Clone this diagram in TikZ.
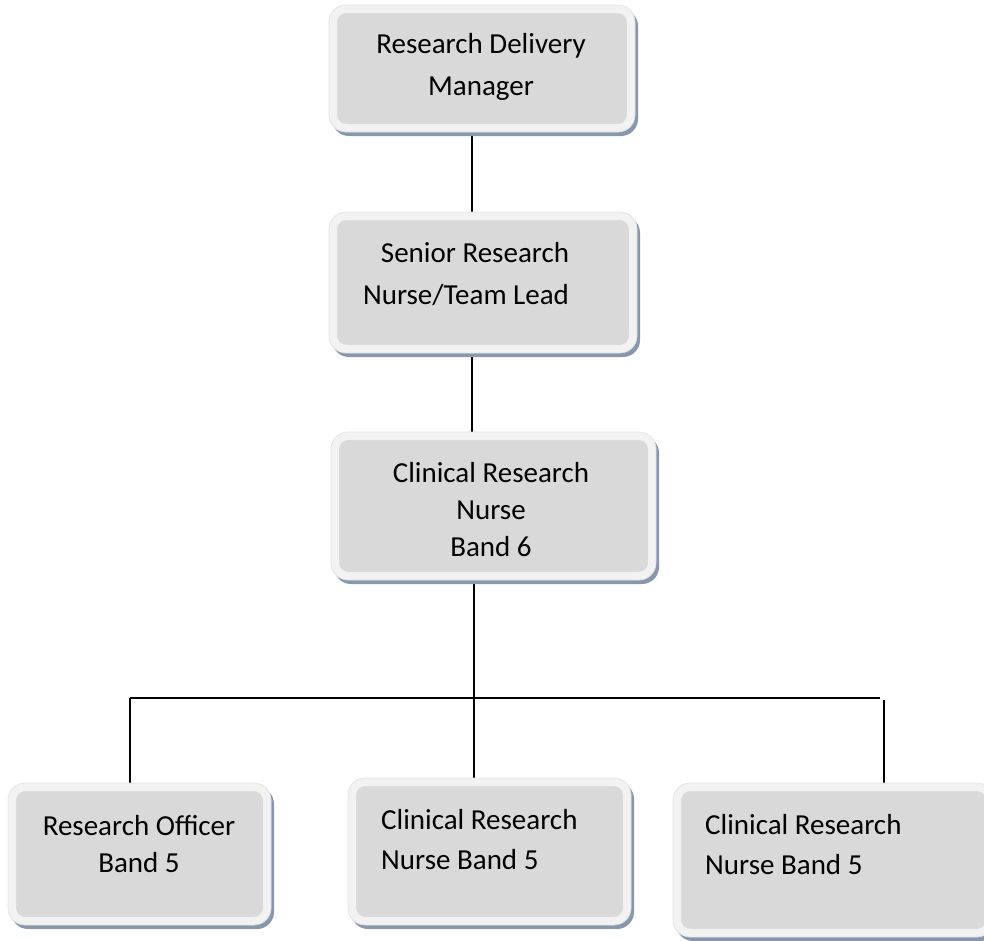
\documentclass[tikz,border=0pt]{standalone}
\usepackage{fontspec}
\setmainfont{Carlito}
\usetikzlibrary{backgrounds,calc}
\definecolor{framec}{HTML}{F2F2F2}
\definecolor{fillc}{HTML}{D9D9D9}
\definecolor{shadowc}{HTML}{8797AE}
\definecolor{edgec}{HTML}{E2E2E2}
\tikzset{
  orgframe/.style={draw=framec, fill=fillc, line width=8pt, rounded corners=13pt, inner sep=0pt},
  orgtext/.style={font=\fontsize{29}{37}\selectfont, inner sep=0pt},
  conn/.style={line width=1.8pt, black}
}
\newcommand\orgbox[5]{%
  \fill[shadowc, rounded corners=17pt] (#2+3,#3+4) rectangle (#4+3,#5+4);
  \node[orgframe, minimum width={#4-#2-8}, minimum height={#5-#3-8}] (#1) at ({(#2+#4)/2},{(#3+#5)/2}) {};
  \draw[edgec, line width=0.7pt, rounded corners=17pt] (#2,#3) rectangle (#4,#5);
}
\begin{document}
\begin{tikzpicture}[x=1pt,y=-1pt]
\useasboundingbox (0,0) rectangle (984,940);
\begin{scope}
\clip (0,0) rectangle (984,940);
\orgbox{b1}{329}{5}{635}{132}
\orgbox{b2}{329}{212}{637}{353}
\orgbox{b3}{331}{432}{656}{580}
\orgbox{b4}{8}{783}{271}{925}
\orgbox{b5}{348}{778}{631}{925}
\orgbox{b6}{673}{783}{994}{937}
\end{scope}

\node[orgtext, align=center] (t1) at (481,67) {Research Delivery\\[5pt]Manager};
\node[orgtext, align=center] (t2) at (466,274) {\hspace*{18pt}Senior Research\\[5pt]Nurse/Team Lead};
\node[orgtext, align=center] (t3) at (491,510) {Clinical Research\\Nurse\\Band 6};
\node[orgtext, align=center] (t4) at (139,844) {Research Officer\\Band 5};
\node[orgtext, align=left, anchor=west] (t5) at (381,840) {Clinical Research\\[3pt]Nurse Band 5};
\node[orgtext, align=left, anchor=west] (t6) at (705,845) {Clinical Research\\[3pt]Nurse Band 5};

\coordinate (x12) at (472,0);
\coordinate (x3) at (474,0);
\coordinate (jL) at (130,698);
\coordinate (jM) at (474,698);
\coordinate (jR) at (880,698);
\coordinate (jR2) at (884,700);

\begin{pgfonlayer}{background}
\draw[conn] (x12 |- b1.south) -- (x12 |- b2.north);
\draw[conn] (x12 |- b2.south) -- (x12 |- b3.north);
\draw[conn] (x3 |- b3.south) -- (jM);
\draw[conn] (jL) -- (jR);
\draw[conn] (jL) -- (jL |- b4.north);
\draw[conn] (jM) -- (jM |- b5.north);
\draw[conn] (jR2) -- (jR2 |- b6.north);
\end{pgfonlayer}
\end{tikzpicture}
\end{document}
